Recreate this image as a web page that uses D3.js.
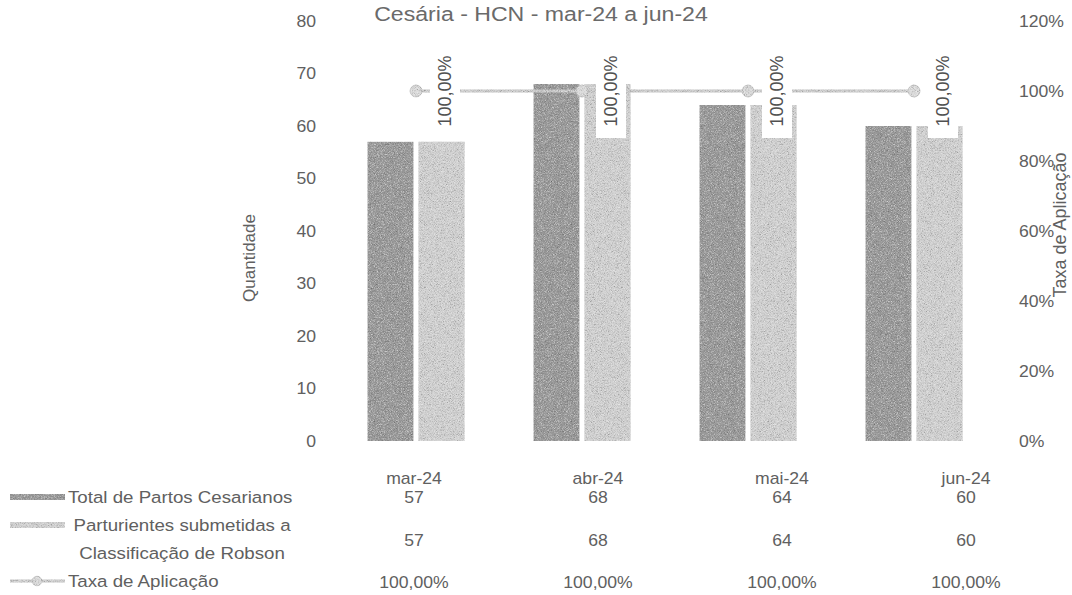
<!DOCTYPE html>
<html>
<head>
<meta charset="utf-8">
<script src="https://cdn.jsdelivr.net/npm/d3@7"></script>
<style>
  html, body { margin: 0; padding: 0; background: #fff; }
  svg { display: block; }
  text { font-family: "Liberation Sans", Arial, sans-serif; fill: #606060; }
  .sx { transform-box: fill-box; transform: scaleX(1.1); }
  .sx-l { transform-origin: left center; }
  .sx-r { transform-origin: right center; }
  .sx-c { transform-origin: center center; }
</style>
</head>
<body>
<script>
// ---------- data ----------
const categories = ["mar-24", "abr-24", "mai-24", "jun-24"];
const totalPartos = [57, 68, 64, 60];
const robson = [57, 68, 64, 60];
const taxa = [100, 100, 100, 100];
const leftTicks = [0, 10, 20, 30, 40, 50, 60, 70, 80];
const rightTicks = [0, 20, 40, 60, 80, 100, 120];
const legendLines = [
  ["Total de Partos Cesarianos"],
  ["Parturientes submetidas a", "Classificação de Robson"],
  ["Taxa de Aplicação"]
];
const titleText = "Cesária - HCN - mar-24 a jun-24";
const leftAxisTitle = "Quantidade";
const rightAxisTitle = "Taxa de Aplicação";

// ---------- setup ----------
const W = 1072, H = 595;
const svg = d3.select("body").append("svg").attr("width", W).attr("height", H);

const ptBR = d3.formatLocale({decimal: ",", thousands: ".", grouping: [3], currency: ["R$", ""]});
const fmtPct = v => ptBR.format(".2f")(v) + "%";

const defs = svg.append("defs");
const grain = defs.append("filter").attr("id", "grain")
  .attr("filterUnits", "userSpaceOnUse").attr("x", 0).attr("y", 0).attr("width", W).attr("height", H);
grain.append("feTurbulence").attr("type", "fractalNoise").attr("baseFrequency", 1.3)
  .attr("numOctaves", 1).attr("seed", 4).attr("result", "noise");
grain.append("feColorMatrix").attr("in", "noise").attr("type", "matrix")
  .attr("values", "0.35 0.35 0.35 0 -0.03  0.35 0.35 0.35 0 -0.03  0.35 0.35 0.35 0 -0.03  0 0 0 0 1")
  .attr("result", "gn");
grain.append("feBlend").attr("in", "SourceGraphic").attr("in2", "gn").attr("mode", "overlay").attr("result", "bl");
grain.append("feComposite").attr("in", "bl").attr("in2", "SourceGraphic").attr("operator", "in");

const darkFill = "#9a9a9a", lightFill = "#d0d0d0", lineCol = "#cbcbcb";

// ---------- scales ----------
const x0 = d3.scaleBand().domain(categories).range([333, 997]).paddingInner(0.415).paddingOuter(0.2075);
const x1 = d3.scaleBand().domain([0, 1]).range([0, x0.bandwidth()]).paddingInner(0.098);
const yL = d3.scaleLinear().domain([0, 80]).range([441, 21]);
const yR = d3.scaleLinear().domain([0, 120]).range([441, 21]);
const xt = d3.scalePoint().domain(categories).range([414, 966]);

// ---------- title ----------
svg.append("text").attr("class", "sx sx-c")
  .attr("x", 541).attr("y", 14).attr("dy", "0.35em").attr("text-anchor", "middle")
  .style("font-size", "21px").style("fill", "#6a6a6a").text(titleText);

// ---------- axes ----------
const gL = svg.append("g").attr("transform", "translate(316,0)")
  .call(d3.axisLeft(yL).tickValues(leftTicks).tickSize(0).tickPadding(0));
gL.select(".domain").remove();
gL.selectAll("text").attr("class", "sx sx-r").style("font-size", "16px").style("fill", "#606060").attr("font-family", null);

const gR = svg.append("g").attr("transform", "translate(1019,0)")
  .call(d3.axisRight(yR).tickValues(rightTicks).tickSize(0).tickPadding(0).tickFormat(d => d + "%"));
gR.select(".domain").remove();
gR.selectAll("text").attr("class", "sx sx-l").style("font-size", "16px").style("fill", "#606060").attr("font-family", null);

svg.append("text").attr("transform", "translate(249,258) rotate(-90)")
  .attr("text-anchor", "middle").attr("dy", "0.35em").style("font-size", "17px").text(leftAxisTitle);
svg.append("text").attr("transform", "translate(1060,225) rotate(-90)")
  .attr("text-anchor", "middle").attr("dy", "0.35em").style("font-size", "18px").text(rightAxisTitle);

// ---------- bars ----------
const barG = svg.append("g").attr("filter", "url(#grain)");
const series = [totalPartos, robson];
const fills = [darkFill, lightFill];
series.forEach((vals, si) => {
  barG.selectAll(".bar" + si).data(vals).join("rect")
    .attr("class", "bar" + si)
    .attr("x", (d, i) => x0(categories[i]) + x1(si))
    .attr("width", x1.bandwidth())
    .attr("y", d => yL(d))
    .attr("height", d => yL(0) - yL(d))
    .attr("fill", fills[si]);
});

// ---------- line ----------
const cx = c => x0(c) + x0.bandwidth() / 2;
const lineG = svg.append("g").attr("filter", "url(#grain)");
lineG.append("path").datum(taxa)
  .attr("d", d3.line().x((d, i) => cx(categories[i])).y(d => yR(d)))
  .attr("fill", "none").attr("stroke", lineCol).attr("stroke-width", 3);
lineG.selectAll("path.mk").data(taxa).join("path").attr("class", "mk")
  .attr("transform", (d, i) => `translate(${cx(categories[i])},${yR(d)})`)
  .attr("d", d3.symbol(d3.symbolCircle, 110))
  .attr("fill", "#dadada").attr("stroke", "#c2c2c2").attr("stroke-width", 1);

// ---------- data labels ----------
const lbl = svg.selectAll("g.lbl").data(taxa).join("g").attr("class", "lbl")
  .attr("transform", (d, i) => `translate(${cx(categories[i]) + 29},${yR(d)})`);
lbl.append("rect").attr("x", -15).attr("y", -47).attr("width", 30).attr("height", 94).attr("fill", "#fff");
lbl.append("text").attr("transform", "rotate(-90)").attr("text-anchor", "middle").attr("dy", "0.35em")
  .style("font-size", "18px").style("fill", "#505050").text(d => fmtPct(d));

// ---------- data table ----------
const tableFont = "16px";
svg.selectAll("text.hdr").data(categories).join("text").attr("class", "hdr sx sx-c")
  .attr("x", d => xt(d)).attr("y", 478).attr("dy", "0.35em").attr("text-anchor", "middle")
  .style("font-size", tableFont).text(d => d);
const rowsY = [497, 540, 582];
const rowVals = [totalPartos.map(String), robson.map(String), taxa.map(fmtPct)];
rowVals.forEach((vals, ri) => {
  svg.selectAll("text.row" + ri).data(vals).join("text").attr("class", "row" + ri + " sx sx-c")
    .attr("x", (d, i) => xt(categories[i])).attr("y", rowsY[ri]).attr("dy", "0.35em")
    .attr("text-anchor", "middle").style("font-size", tableFont).text(d => d);
});

// ---------- legend keys ----------
const legG = svg.append("g").attr("filter", "url(#grain)");
legG.append("rect").attr("x", 10).attr("y", 494).attr("width", 55).attr("height", 6).attr("fill", darkFill);
legG.append("rect").attr("x", 10).attr("y", 522).attr("width", 55).attr("height", 6).attr("fill", lightFill);
legG.append("line").attr("x1", 10).attr("x2", 65).attr("y1", 581).attr("y2", 581)
  .attr("stroke", lineCol).attr("stroke-width", 3);
legG.append("path").attr("transform", "translate(37,581)").attr("d", d3.symbol(d3.symbolCircle, 70))
  .attr("fill", "#dadada").attr("stroke", "#c2c2c2");

// legend text
svg.append("text").attr("class", "sx sx-l").attr("x", 68).attr("y", 497).attr("dy", "0.35em")
  .style("font-size", "17px").text(legendLines[0][0]);
svg.selectAll("text.leg2").data(legendLines[1]).join("text").attr("class", "leg2 sx sx-c")
  .attr("x", 182).attr("y", (d, i) => 525 + i * 28).attr("dy", "0.35em").attr("text-anchor", "middle")
  .style("font-size", "17px").text(d => d);
svg.append("text").attr("class", "sx sx-l").attr("x", 68).attr("y", 581).attr("dy", "0.35em")
  .style("font-size", "17px").text(legendLines[2][0]);
</script>
</body>
</html>
